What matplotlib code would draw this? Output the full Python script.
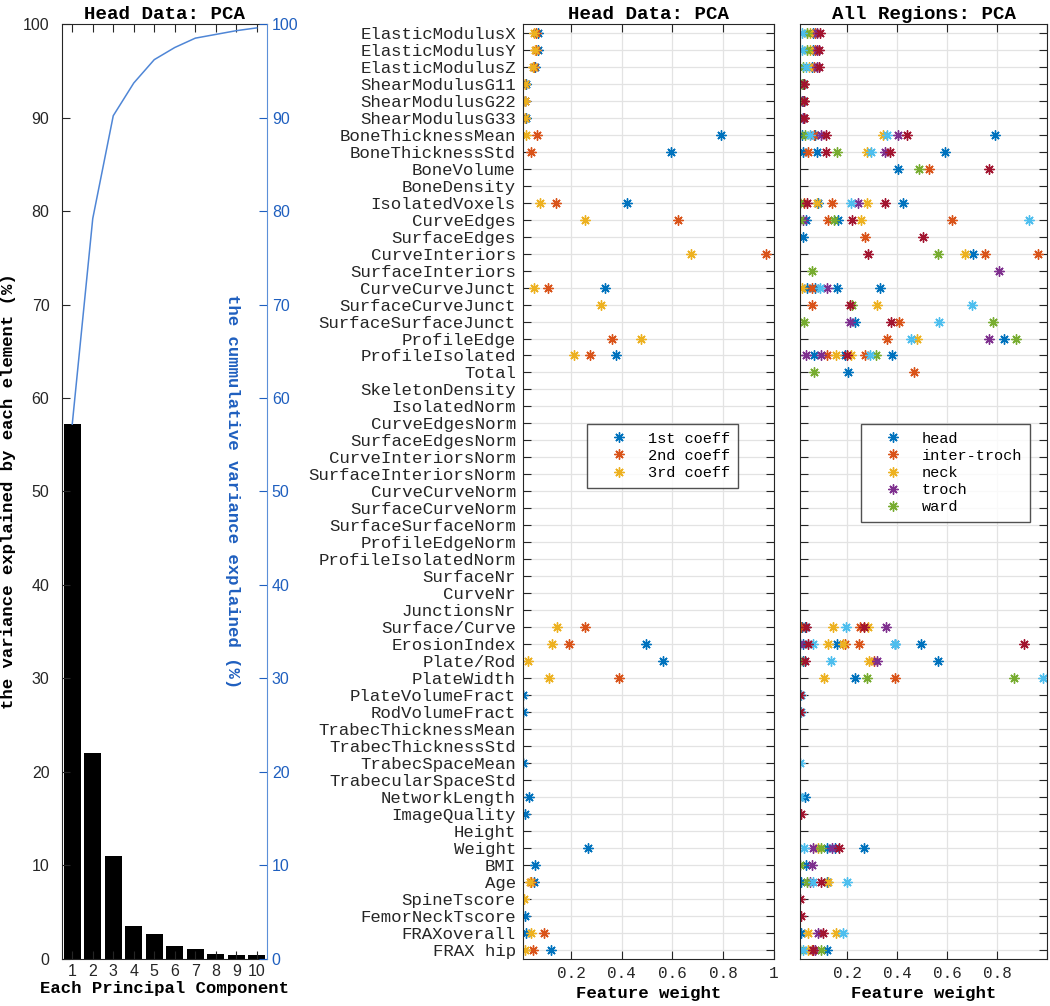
import numpy as np
import matplotlib
matplotlib.use("Agg")
import matplotlib.pyplot as plt

mono = "Liberation Mono"
sans = "Liberation Sans"

# ---- left panel: variance explained ----
components = np.arange(1, 11)
variance = [57.2, 22.0, 11.0, 3.5, 2.6, 1.4, 1.05, 0.55, 0.45, 0.38]
cumulative = [57.2, 79.2, 90.2, 93.7, 96.2, 97.5, 98.5, 98.9, 99.3, 99.6]

# ---- features ----
features = ["ElasticModulusX", "ElasticModulusY", "ElasticModulusZ",
            "ShearModulusG11", "ShearModulusG22", "ShearModulusG33",
            "BoneThicknessMean", "BoneThicknessStd", "BoneVolume", "BoneDensity",
            "IsolatedVoxels", "CurveEdges", "SurfaceEdges", "CurveInteriors",
            "SurfaceInteriors", "CurveCurveJunct", "SurfaceCurveJunct",
            "SurfaceSurfaceJunct", "ProfileEdge", "ProfileIsolated", "Total",
            "SkeletonDensity", "IsolatedNorm", "CurveEdgesNorm", "SurfaceEdgesNorm",
            "CurveInteriorsNorm", "SurfaceInteriorsNorm", "CurveCurveNorm",
            "SurfaceCurveNorm", "SurfaceSurfaceNorm", "ProfileEdgeNorm",
            "ProfileIsolatedNorm", "SurfaceNr", "CurveNr", "JunctionsNr",
            "Surface/Curve", "ErosionIndex", "Plate/Rod", "PlateWidth",
            "PlateVolumeFract", "RodVolumeFract", "TrabecThicknessMean",
            "TrabecThicknessStd", "TrabecSpaceMean", "TrabecularSpaceStd",
            "NetworkLength", "ImageQuality", "Height", "Weight", "BMI", "Age",
            "SpineTscore", "FemorNeckTscore", "FRAXoverall", "FRAX hip"]

# ---- middle panel: head data coefficients ----
coeff1 = {"ElasticModulusX": 0.07, "ElasticModulusY": 0.07, "ElasticModulusZ": 0.06,
          "ShearModulusG11": 0.022, "ShearModulusG22": 0.02, "ShearModulusG33": 0.022,
          "BoneThicknessMean": 0.79, "BoneThicknessStd": 0.595, "IsolatedVoxels": 0.42,
          "CurveCurveJunct": 0.334, "ProfileIsolated": 0.378, "ErosionIndex": 0.495,
          "Plate/Rod": 0.562, "PlateVolumeFract": 0.011, "RodVolumeFract": 0.011,
          "TrabecSpaceMean": 0.011, "NetworkLength": 0.035, "ImageQuality": 0.02,
          "Weight": 0.268, "BMI": 0.059, "Age": 0.053, "FemorNeckTscore": 0.02,
          "FRAXoverall": 0.024, "FRAX hip": 0.122}
coeff2 = {"ElasticModulusX": 0.062, "ElasticModulusY": 0.062, "ElasticModulusZ": 0.055,
          "ShearModulusG11": 0.02, "ShearModulusG22": 0.02, "ShearModulusG33": 0.02,
          "BoneThicknessMean": 0.066, "BoneThicknessStd": 0.042, "IsolatedVoxels": 0.139,
          "CurveEdges": 0.623, "CurveInteriors": 0.968, "CurveCurveJunct": 0.11,
          "ProfileEdge": 0.361, "ProfileIsolated": 0.276, "Surface/Curve": 0.254,
          "ErosionIndex": 0.193, "PlateWidth": 0.39, "Age": 0.043,
          "FRAXoverall": 0.095, "FRAX hip": 0.049}
coeff3 = {"ElasticModulusX": 0.055, "ElasticModulusY": 0.058, "ElasticModulusZ": 0.05,
          "ShearModulusG11": 0.02, "ShearModulusG22": 0.018, "ShearModulusG33": 0.02,
          "BoneThicknessMean": 0.022, "IsolatedVoxels": 0.079, "CurveEdges": 0.254,
          "CurveInteriors": 0.672, "CurveCurveJunct": 0.053, "SurfaceCurveJunct": 0.319,
          "ProfileEdge": 0.477, "ProfileIsolated": 0.21, "Surface/Curve": 0.145,
          "ErosionIndex": 0.125, "Plate/Rod": 0.029, "PlateWidth": 0.112, "Age": 0.04,
          "SpineTscore": 0.016, "FRAXoverall": 0.043, "FRAX hip": 0.018}
coeff_labels = ["1st coeff", "2nd coeff", "3rd coeff"]

# ---- right panel: all regions, grouped by plotted colour ----
w_blue = {"ElasticModulusX": [0.064], "ElasticModulusY": [0.064], "ElasticModulusZ": [0.057],
          "ShearModulusG11": [0.022], "ShearModulusG22": [0.022], "ShearModulusG33": [0.022],
          "BoneThicknessMean": [0.017, 0.07, 0.79], "BoneThicknessStd": [0.021, 0.077, 0.592],
          "BoneVolume": [0.404], "IsolatedVoxels": [0.084, 0.421], "CurveEdges": [0.035, 0.164],
          "SurfaceEdges": [0.021], "CurveInteriors": [0.704],
          "CurveCurveJunct": [0.04, 0.07, 0.16, 0.33], "SurfaceSurfaceJunct": [0.23],
          "ProfileEdge": [0.828], "ProfileIsolated": [0.067, 0.19, 0.377], "Total": [0.204],
          "Surface/Curve": [0.02, 0.03], "ErosionIndex": [0.021, 0.157, 0.39, 0.495],
          "Plate/Rod": [0.021, 0.561], "PlateWidth": [0.232], "NetworkLength": [0.03],
          "Weight": [0.117, 0.15, 0.268], "BMI": [0.035], "Age": [0.013, 0.12],
          "FRAXoverall": [0.013], "FRAX hip": [0.12]}
w_red = {"ElasticModulusX": [0.07], "ElasticModulusY": [0.07], "ElasticModulusZ": [0.065],
         "ShearModulusG11": [0.025], "ShearModulusG22": [0.026], "ShearModulusG33": [0.027],
         "BoneThicknessMean": [0.066], "BoneThicknessStd": [0.042], "BoneVolume": [0.527],
         "IsolatedVoxels": [0.025, 0.137], "CurveEdges": [0.124, 0.62], "SurfaceEdges": [0.269],
         "CurveInteriors": [0.752, 0.964], "CurveCurveJunct": [0.058],
         "SurfaceCurveJunct": [0.057], "SurfaceSurfaceJunct": [0.408], "ProfileEdge": [0.36],
         "ProfileIsolated": [0.12, 0.27], "Total": [0.467], "Surface/Curve": [0.015, 0.25],
         "ErosionIndex": [0.19, 0.248], "Plate/Rod": [0.305], "PlateWidth": [0.39],
         "FRAX hip": [0.057]}
w_yellow = {"ElasticModulusX": [0.05], "ElasticModulusY": [0.05], "ElasticModulusZ": [0.045],
            "BoneThicknessMean": [0.344], "BoneThicknessStd": [0.28],
            "IsolatedVoxels": [0.079, 0.279], "CurveEdges": [0.253], "CurveInteriors": [0.669],
            "CurveCurveJunct": [0.017], "SurfaceCurveJunct": [0.317], "ProfileEdge": [0.477],
            "ProfileIsolated": [0.155, 0.213], "Surface/Curve": [0.141, 0.283],
            "ErosionIndex": [0.124, 0.184], "Plate/Rod": [0.288], "PlateWidth": [0.108],
            "Weight": [0.084], "Age": [0.121], "FRAXoverall": [0.044, 0.155], "FRAX hip": [0.044]}
w_purple = {"ElasticModulusX": [0.077], "ElasticModulusY": [0.077], "ElasticModulusZ": [0.078],
            "ShearModulusG11": [0.02], "ShearModulusG22": [0.02], "ShearModulusG33": [0.024],
            "BoneThicknessMean": [0.093, 0.404], "BoneThicknessStd": [0.35],
            "IsolatedVoxels": [0.241], "CurveEdges": [0.021], "SurfaceInteriors": [0.808],
            "CurveCurveJunct": [0.117], "SurfaceSurfaceJunct": [0.21], "ProfileEdge": [0.768],
            "ProfileIsolated": [0.035, 0.093], "Surface/Curve": [0.355], "ErosionIndex": [0.012],
            "Plate/Rod": [0.32], "Weight": [0.064, 0.137], "BMI": [0.057], "Age": [0.05],
            "FRAXoverall": [0.084], "FRAX hip": [0.071]}
w_green = {"ElasticModulusX": [0.04], "ElasticModulusY": [0.04], "ElasticModulusZ": [0.021],
           "ShearModulusG11": [0.018], "ShearModulusG22": [0.012],
           "BoneThicknessMean": [0.03], "BoneThicknessStd": [0.157], "BoneVolume": [0.487],
           "IsolatedVoxels": [0.011], "CurveEdges": [0.011, 0.145], "CurveInteriors": [0.564],
           "SurfaceInteriors": [0.06], "SurfaceCurveJunct": [0.22],
           "SurfaceSurfaceJunct": [0.028, 0.781], "ProfileEdge": [0.875],
           "ProfileIsolated": [0.315], "Total": [0.067], "Plate/Rod": [0.011],
           "PlateWidth": [0.28, 0.867], "Weight": [0.093], "BMI": [0.012], "Age": [0.037],
           "FRAX hip": [0.011, 0.093]}
w_lightblue = {"ElasticModulusX": [0.017], "ElasticModulusY": [0.017], "ElasticModulusZ": [0.035],
               "BoneThicknessMean": [0.05, 0.36], "BoneThicknessStd": [0.295],
               "IsolatedVoxels": [0.215], "CurveEdges": [0.925], "CurveCurveJunct": [0.09],
               "SurfaceCurveJunct": [0.697], "SurfaceSurfaceJunct": [0.567],
               "ProfileEdge": [0.453], "ProfileIsolated": [0.29], "Surface/Curve": [0.195],
               "ErosionIndex": [0.061, 0.39], "Plate/Rod": [0.135], "PlateWidth": [0.984],
               "PlateVolumeFract": [0.015], "RodVolumeFract": [0.015], "TrabecSpaceMean": [0.011],
               "NetworkLength": [0.011], "Weight": [0.027], "Age": [0.064, 0.2],
               "FRAXoverall": [0.184], "FRAX hip": [0.024]}
w_darkred = {"ElasticModulusX": [0.09], "ElasticModulusY": [0.088], "ElasticModulusZ": [0.088],
             "ShearModulusG11": [0.027], "ShearModulusG22": [0.028], "ShearModulusG33": [0.026],
             "BoneThicknessMean": [0.115, 0.44], "BoneThicknessStd": [0.115, 0.37],
             "BoneVolume": [0.768], "IsolatedVoxels": [0.04, 0.351], "CurveEdges": [0.217],
             "SurfaceEdges": [0.504], "CurveInteriors": [0.283], "SurfaceCurveJunct": [0.21],
             "SurfaceSurfaceJunct": [0.373], "ProfileIsolated": [0.2],
             "Surface/Curve": [0.035, 0.267], "ErosionIndex": [0.044, 0.908], "Plate/Rod": [0.031],
             "PlateVolumeFract": [0.011], "RodVolumeFract": [0.011], "ImageQuality": [0.015],
             "Weight": [0.168], "Age": [0.093], "SpineTscore": [0.011],
             "FemorNeckTscore": [0.015], "FRAXoverall": [0.101], "FRAX hip": [0.064]}
region_labels = ["head", "inter-troch", "neck", "troch", "ward"]

C_BLUE, C_RED, C_YEL = "#0072BD", "#D95319", "#EDB120"
C_PUR, C_GRN, C_LBL, C_DRD = "#7E2F8E", "#77AC30", "#4DBEEE", "#A2142F"
ASTER = (8, 2, 0)
DARK = "#262626"

fig = plt.figure(figsize=(10.5, 10.06), dpi=100)
bottom, height = 0.047, 0.929

# ---------- left panel ----------
ax = fig.add_axes([62 / 1050, bottom, 205 / 1050, height])
ax.bar(components, variance, width=0.82, color="black")
ax.set_xlim(0.5, 10.5)
ax.set_ylim(0, 100)
ax.set_xticks(components)
ax.set_yticks(np.arange(0, 101, 10))
ax.tick_params(direction="in", length=6, top=True, right=False, colors=DARK,
               labelsize=11.5)
ax.tick_params(axis="y", pad=9)
for t in ax.get_xticklabels() + ax.get_yticklabels():
    t.set_fontfamily(sans)
for s in ["left", "top", "bottom"]:
    ax.spines[s].set_color(DARK)
ax.spines["right"].set_visible(False)
ax.set_title("Head Data: PCA", fontfamily=mono, fontweight="bold", fontsize=13.8, pad=4)
ax.set_xlabel("Each Principal Component", fontfamily=mono, fontweight="bold",
              fontsize=12.4, labelpad=2)
ax.set_ylabel("the variance explained by each element (%)", fontfamily=mono,
              fontweight="bold", fontsize=12.4)
ax.yaxis.set_label_coords(-0.225, 0.5)

ax2 = ax.twinx()
ax2.plot(components, cumulative, color="#4f86d6", linewidth=1.1)
ax2.set_ylim(0, 100)
ax2.set_yticks(np.arange(0, 101, 10))
ax2.tick_params(direction="in", length=6, colors="#1f5fbf", labelsize=11.5)
for t in ax2.get_yticklabels():
    t.set_fontfamily(sans)
ax2.spines["right"].set_color("#5b8fd8")
for s in ["left", "top", "bottom"]:
    ax2.spines[s].set_visible(False)
ax2.text(0.834, 0.5, "the cummulative variance explained (%)", transform=ax2.transAxes,
         rotation=-90, ha="center", va="center", color="#1f5fbf", fontfamily=mono,
         fontweight="bold", fontsize=12.4)

rows = np.arange(1, len(features) + 1)
row_of = {f: i + 1 for i, f in enumerate(features)}


def style_panel(a, title):
    a.set_xlim(0.01, 1)
    a.set_ylim(len(features) + 0.5, 0.5)
    a.set_yticks(rows)
    a.set_xticks([0.2, 0.4, 0.6, 0.8, 1.0])
    a.grid(True, color="#e3e3e3", linewidth=0.9)
    a.set_axisbelow(True)
    a.tick_params(direction="in", length=6, top=True, right=True, colors=DARK,
                  labelsize=11.5, pad=5)
    a.tick_params(axis="y", labelsize=12.5)
    for s in a.spines.values():
        s.set_color(DARK)
    a.set_title(title, fontfamily=mono, fontweight="bold", fontsize=13.8, pad=4)
    a.set_xlabel("Feature weight", fontfamily=mono, fontweight="bold", fontsize=12.4,
                 labelpad=4)


def draw(a, data, color, label=None):
    xs, ys = [], []
    for f, vals in data.items():
        for v in np.atleast_1d(vals):
            xs.append(v)
            ys.append(row_of[f])
    a.plot(xs, ys, linestyle="none", marker=ASTER, markersize=7.2,
           markeredgewidth=1.0, color=color, label=label)


def add_legend(a, anchor):
    lg = a.legend(loc="upper left", bbox_to_anchor=anchor,
                  prop={"family": mono, "size": 11},
                  frameon=True, fancybox=False, edgecolor=DARK, borderpad=0.5,
                  labelspacing=0.2, handletextpad=0.3, handlelength=3.2,
                  borderaxespad=0)
    lg.get_frame().set_linewidth(1.0)


# ---------- middle panel ----------
axm = fig.add_axes([522.8 / 1050, bottom, 251 / 1050, height])
style_panel(axm, "Head Data: PCA")
axm.set_yticklabels(features, fontfamily=mono)
axm.set_xticklabels(["0.2", "0.4", "0.6", "0.8", "1"], fontfamily=mono)
draw(axm, coeff1, C_BLUE, coeff_labels[0])
draw(axm, coeff2, C_RED, coeff_labels[1])
draw(axm, coeff3, C_YEL, coeff_labels[2])
add_legend(axm, (0.256, 0.572))

# ---------- right panel ----------
axr = fig.add_axes([799.8 / 1050, bottom, 247.5 / 1050, height])
style_panel(axr, "All Regions: PCA")
axr.set_yticklabels([])
axr.set_xticklabels(["0.2", "0.4", "0.6", "0.8", ""], fontfamily=mono)
draw(axr, w_blue, C_BLUE, region_labels[0])
draw(axr, w_red, C_RED, region_labels[1])
draw(axr, w_yellow, C_YEL, region_labels[2])
draw(axr, w_purple, C_PUR, region_labels[3])
draw(axr, w_green, C_GRN, region_labels[4])
draw(axr, w_lightblue, C_LBL)
draw(axr, w_darkred, C_DRD)
add_legend(axr, (0.247, 0.572))

fig.savefig("out.png", dpi=100)
